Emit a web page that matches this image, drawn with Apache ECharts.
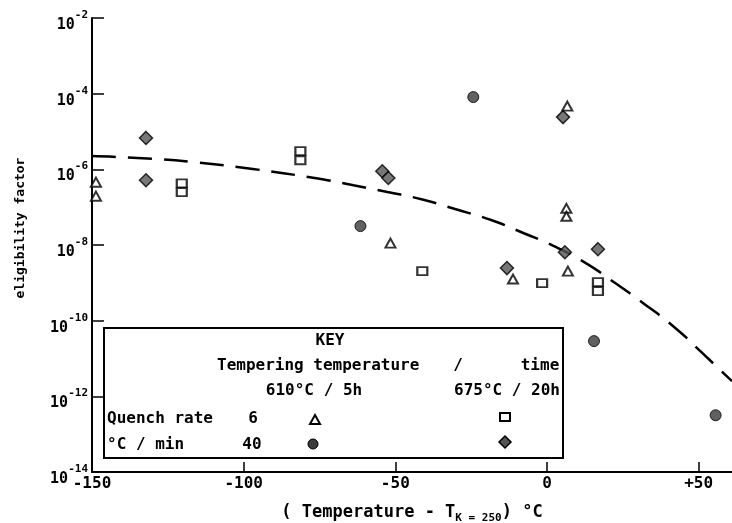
<!DOCTYPE html>
<html>
<head>
<meta charset="utf-8">
<script src="https://cdn.jsdelivr.net/npm/echarts@6/dist/echarts.min.js"></script>
<style>
  html, body { margin: 0; padding: 0; background: #fff; }
  #chart { width: 732px; height: 523px; }
</style>
</head>
<body>
<div id="chart"></div>
<script>
// eligibility factor plotted as log10 values (y axis ticks 10^-14 .. 10^-2)
const xTicks = [-150, -100, -50, 0, 50];
const yTicks = [-14, -12, -10, -8, -6, -4, -2];

// 610C/5h, 6 C/min  (triangles)
const triX = [-148.7, -148.7, -51.6, -11.2, 6.9, 6.4, 6.4, 6.7];
const triY = [-6.34, -6.71, -7.95, -8.90, -8.69, -7.03, -7.24, -4.33];
// 610C/5h, 40 C/min  (circles)
const circX = [-24.3, -61.5, 15.5, 55.6];
const circY = [-4.09, -7.50, -10.54, -12.50];
// 675C/20h, 6 C/min  (squares)
const sqX = [-120.4, -120.4, -81.3, -81.3, -41.1, -1.6, 16.8, 16.8];
const sqY = [-6.37, -6.60, -5.52, -5.76, -8.69, -9.01, -8.98, -9.22];
// 675C/20h, 40 C/min  (diamonds)
const diaX = [-132.2, -132.2, -54.3, -52.3, 5.3, 5.9, 16.8, -13.2];
const diaY = [-5.17, -6.29, -6.05, -6.23, -4.62, -8.19, -8.11, -8.61];
// fitted trend (dashed)
const fitX = [-150, -130, -115, -97, -76.6, -63.8, -52.6, -41.4, -30.3, -18.4, -7.6, 2.3, 12.8, 22.0, 31.3, 42.4, 51.0, 61];
const fitY = [-5.65, -5.72, -5.82, -5.99, -6.23, -6.42, -6.60, -6.79, -7.05, -7.34, -7.69, -8.03, -8.48, -8.98, -9.51, -10.20, -10.84, -11.60];

const MONO = '"DejaVu Sans Mono", monospace';

function pairs(xs, ys) {
  return xs.map((x, i) => [x, ys[i]]);
}

const chart = echarts.init(document.getElementById('chart'));

const legendFont = 'bold 16px ' + MONO;
function txt(text, x, y, align) {
  return {
    type: 'text', x: x, y: y, z: 20,
    style: { text: text, font: legendFont, fill: '#000', textAlign: align || 'left', textVerticalAlign: 'middle' }
  };
}

const options = {
  animation: false,
  backgroundColor: '#fff',
  grid: { left: 92, right: 0, top: 18, bottom: 51, outerBoundsMode: 'none' },
  xAxis: {
    type: 'value',
    min: -150,
    max: 61,
    splitLine: { show: false },
    axisLine: { onZero: false, lineStyle: { color: '#000', width: 2 } },
    axisTick: { inside: true, length: 10, customValues: xTicks, lineStyle: { color: '#000', width: 1.5 } },
    axisLabel: {
      customValues: xTicks,
      margin: 4,
      color: '#000',
      fontFamily: MONO,
      fontSize: 16,
      fontWeight: 'bold',
      formatter: v => (v > 0 ? '+' + v : String(v))
    },
    name: '{a|( Temperature - T}{s|K = 250}{a|) }{d|°}{a|C}',
    nameLocation: 'middle',
    nameGap: 32,
    nameTextStyle: {
      rich: {
        a: { fontFamily: MONO, fontSize: 17, fontWeight: 'bold', color: '#000', lineHeight: 20, verticalAlign: 'top' },
        s: { fontFamily: MONO, fontSize: 11, fontWeight: 'bold', color: '#000', lineHeight: 12, verticalAlign: 'bottom' },
        d: { fontFamily: MONO, fontSize: 17, fontWeight: 'bold', color: '#000', lineHeight: 20, verticalAlign: 'top', padding: [0, 0, 6, 0] }
      }
    }
  },
  yAxis: {
    type: 'value',
    min: -14,
    max: -2,
    interval: 2,
    splitLine: { show: false },
    axisLine: { onZero: false, lineStyle: { color: '#000', width: 2 } },
    axisTick: { inside: true, length: 12, lineStyle: { color: '#000', width: 1.5 } },
    axisLabel: {
      margin: 4,
      formatter: v => '{b|10}{s|' + v + '}',
      rich: {
        b: { fontFamily: MONO, fontSize: 15, fontWeight: 'bold', color: '#000', lineHeight: 31, verticalAlign: 'top', padding: [15, 0, 0, 0] },
        s: { fontFamily: MONO, fontSize: 11, fontWeight: 'bold', color: '#000', lineHeight: 11, verticalAlign: 'top', padding: [7, 0, 0, 0] }
      }
    }
  },
  graphic: [
    {
      type: 'text', x: 21, y: 228, rotation: Math.PI / 2,
      style: { text: 'eligibility factor', font: 'bold 13px ' + MONO, fill: '#000', textAlign: 'center', textVerticalAlign: 'middle' }
    },
    {
      type: 'rect', z: 10,
      shape: { x: 104, y: 328, width: 459, height: 130 },
      style: { fill: '#fff', stroke: '#000', lineWidth: 2 }
    },
    txt('KEY', 330, 341, 'center'),
    txt('Tempering temperature', 217, 366),
    txt('/', 458, 366, 'center'),
    txt('time', 540, 366, 'center'),
    txt('610°C / 5h', 314, 391, 'center'),
    txt('675°C / 20h', 507, 391, 'center'),
    txt('Quench rate', 107, 419),
    txt('6', 253, 419, 'center'),
    txt('°C / min', 107, 445),
    txt('40', 252, 445, 'center'),
    {
      type: 'polygon', z: 20,
      shape: { points: [[315, 415], [320, 424], [310, 424]] },
      style: { fill: '#fff', stroke: '#000', lineWidth: 2 }
    },
    {
      type: 'rect', z: 20,
      shape: { x: 500, y: 413, width: 10, height: 8 },
      style: { fill: '#fff', stroke: '#000', lineWidth: 2 }
    },
    {
      type: 'circle', z: 20,
      shape: { cx: 313, cy: 444, r: 5 },
      style: { fill: '#3a3a3a', stroke: '#000', lineWidth: 1 }
    },
    {
      type: 'polygon', z: 20,
      shape: { points: [[505, 436], [511, 442], [505, 448], [499, 442]] },
      style: { fill: '#555', stroke: '#000', lineWidth: 1.5 }
    }
  ],
  series: [
    {
      name: 'fit',
      type: 'line',
      data: pairs(fitX, fitY),
      smooth: true,
      showSymbol: false,
      lineStyle: { color: '#000', width: 2.5, type: [24, 12] },
      z: 1
    },
    {
      name: '610/5h 6',
      type: 'scatter',
      data: pairs(triX, triY),
      symbol: 'triangle',
      symbolSize: [10, 9],
      itemStyle: { color: '#fff', borderColor: '#000', borderWidth: 2 },
      z: 3
    },
    {
      name: '610/5h 40',
      type: 'scatter',
      data: pairs(circX, circY),
      symbol: 'circle',
      symbolSize: 11,
      itemStyle: { color: '#3a3a3a', borderColor: '#000', borderWidth: 1 },
      z: 3
    },
    {
      name: '675/20h 6',
      type: 'scatter',
      data: pairs(sqX, sqY),
      symbol: 'rect',
      symbolSize: [10, 8],
      itemStyle: { color: '#fff', borderColor: '#000', borderWidth: 2 },
      z: 3
    },
    {
      name: '675/20h 40',
      type: 'scatter',
      data: pairs(diaX, diaY),
      symbol: 'diamond',
      symbolSize: 13,
      itemStyle: { color: '#555', borderColor: '#000', borderWidth: 1.5 },
      z: 3
    }
  ]
};

chart.setOption(options);
</script>
</body>
</html>
